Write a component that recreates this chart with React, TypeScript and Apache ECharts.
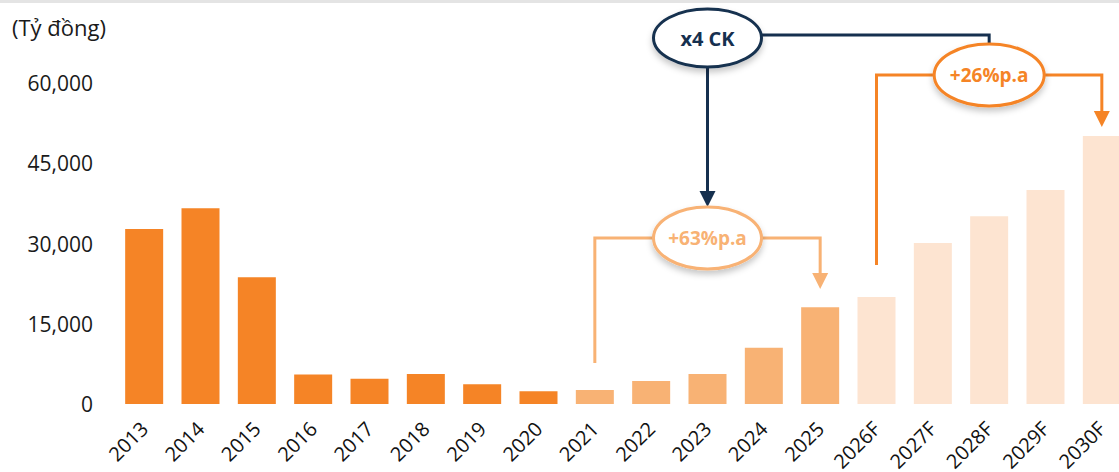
import React, { useEffect, useRef } from "react";
import * as echarts from "echarts";

const categories = [
  "2013", "2014", "2015", "2016", "2017", "2018", "2019", "2020",
  "2021", "2022", "2023", "2024", "2025",
  "2026F", "2027F", "2028F", "2029F", "2030F",
];
const values = [
  32700, 36600, 23700, 5500, 4700, 5600, 3700, 2400,
  2600, 4300, 5600, 10500, 18100,
  20000, 30100, 35100, 40000, 50100,
];
const yTicks = [0, 15000, 30000, 45000, 60000];
const unitLabel = "(Tỷ đồng)";
const mainNote = "x4 CK";
const growthA = { label: "+63%p.a", from: "2021", to: "2025" };
const growthB = { label: "+26%p.a", from: "2026F", to: "2030F" };
const lastActualEarly = "2020";
const lastActual = "2025";

const C_DARK = "#F58426";
const C_MID = "#F8B274";
const C_LIGHT = "#FDE4D1";
const C_NAVY = "#16304F";
const FONT = "'Open Sans', 'Noto Sans', sans-serif";

export default function App() {
  const ref = useRef<HTMLDivElement>(null);
  useEffect(() => {
    const el = ref.current!;
    const chart = echarts.init(el, null, { renderer: "svg" });
    const iEarly = categories.indexOf(lastActualEarly);
    const iActual = categories.indexOf(lastActual);
    chart.setOption({
      animation: false,
      textStyle: { fontFamily: FONT },
      grid: { left: 116, right: 0, top: 83, bottom: 68, containLabel: false, outerBoundsMode: "none" },
      xAxis: {
        type: "category",
        data: categories,
        axisLine: { show: false },
        axisTick: { show: false },
        axisLabel: {
          rotate: 45,
          interval: 0,
          margin: 21,
          fontSize: 20,
          color: "#111",
          fontFamily: FONT,
        },
      },
      yAxis: {
        type: "value",
        min: yTicks[0],
        max: yTicks[yTicks.length - 1],
        interval: yTicks[1] - yTicks[0],
        splitLine: { show: false },
        axisLine: { show: false },
        axisTick: { show: false },
        axisLabel: {
          margin: 23,
          fontSize: 21,
          color: "#1a1a1a",
          fontFamily: FONT,
          formatter: (v: number) => v.toLocaleString("en-US"),
        },
      },
      series: [
        {
          type: "bar",
          data: values,
          barWidth: 38,
          itemStyle: {
            color: (p: any) =>
              p.dataIndex <= iEarly ? C_DARK : p.dataIndex <= iActual ? C_MID : C_LIGHT,
          },
        },
      ],
    });

    const px = (cat: string) =>
      chart.convertToPixel({ gridIndex: 0 }, [categories.indexOf(cat), 0])[0];
    const xA0 = px(growthA.from);
    const xA1 = px(growthA.to);
    const xB0 = px(growthB.from);
    const xB1 = px(growthB.to);
    const xAc = (xA0 + xA1) / 2;
    const xBc = (xB0 + xB1) / 2;

    const shadow = { shadowBlur: 6, shadowOffsetY: 4, shadowColor: "rgba(0,0,0,0.22)" };
    const lw = 3;
    const arrow = (x: number, yTip: number, color: string) => ({
      type: "polygon",
      shape: { points: [[x - 8, yTip - 16], [x + 8, yTip - 16], [x, yTip]] },
      style: { fill: color },
    });
    const ell = (cx: number, cy: number, rx: number, ry: number, color: string, text: string, fs: number) => [
      {
        type: "ellipse",
        shape: { cx, cy, rx, ry },
        style: { fill: "#fff", stroke: color, lineWidth: lw, ...shadow },
        z: 10,
      },
      {
        type: "text",
        x: cx,
        y: cy,
        z: 11,
        style: {
          text,
          fill: color,
          font: `bold ${fs}px ${FONT}`,
          align: "center",
          verticalAlign: "middle",
        },
      },
    ];

    const yA = 238;
    const yB = 75;
    chart.setOption({
      graphic: [
        { type: "rect", shape: { x: 0, y: 0, width: 1140, height: 3 }, style: { fill: "#E4E4E4" } },
        {
          type: "text",
          x: 12,
          y: 27,
          style: { text: unitLabel, fill: "#1a1a1a", font: `22px ${FONT}`, verticalAlign: "middle" },
        },
        {
          type: "polyline",
          shape: { points: [[xAc, 66], [xAc, 192]] },
          style: { stroke: C_NAVY, lineWidth: lw, fill: "none" },
        },
        arrow(xAc, 207, C_NAVY),
        {
          type: "polyline",
          shape: { points: [[xAc + 54, 35], [xBc, 35], [xBc, 45]] },
          style: { stroke: C_NAVY, lineWidth: lw, fill: "none" },
        },
        {
          type: "polyline",
          shape: { points: [[xA0, 363], [xA0, yA], [xAc - 54, yA]] },
          style: { stroke: C_MID, lineWidth: lw, fill: "none" },
        },
        {
          type: "polyline",
          shape: { points: [[xAc + 54, yA], [xA1, yA], [xA1, 274]] },
          style: { stroke: C_MID, lineWidth: lw, fill: "none" },
        },
        arrow(xA1, 289, C_MID),
        {
          type: "polyline",
          shape: { points: [[xB0, 265], [xB0, yB], [xBc - 55, yB]] },
          style: { stroke: C_DARK, lineWidth: lw, fill: "none" },
        },
        {
          type: "polyline",
          shape: { points: [[xBc + 55, yB], [xB1, yB], [xB1, 112]] },
          style: { stroke: C_DARK, lineWidth: lw, fill: "none" },
        },
        arrow(xB1, 127, C_DARK),
        ...ell(xAc, 38, 54, 29, C_NAVY, mainNote, 20),
        ...ell(xAc, yA, 54, 31, C_MID, growthA.label, 19),
        ...ell(xBc, yB, 55, 31, C_DARK, growthB.label, 19),
      ],
    });
    return () => chart.dispose();
  }, []);
  return (
    <div style={{ position: "absolute", left: 0, top: 0, width: 1119, height: 472, overflow: "hidden", background: "#fff" }}>
      <div ref={ref} style={{ width: 1130, height: 472 }} />
    </div>
  );
}
